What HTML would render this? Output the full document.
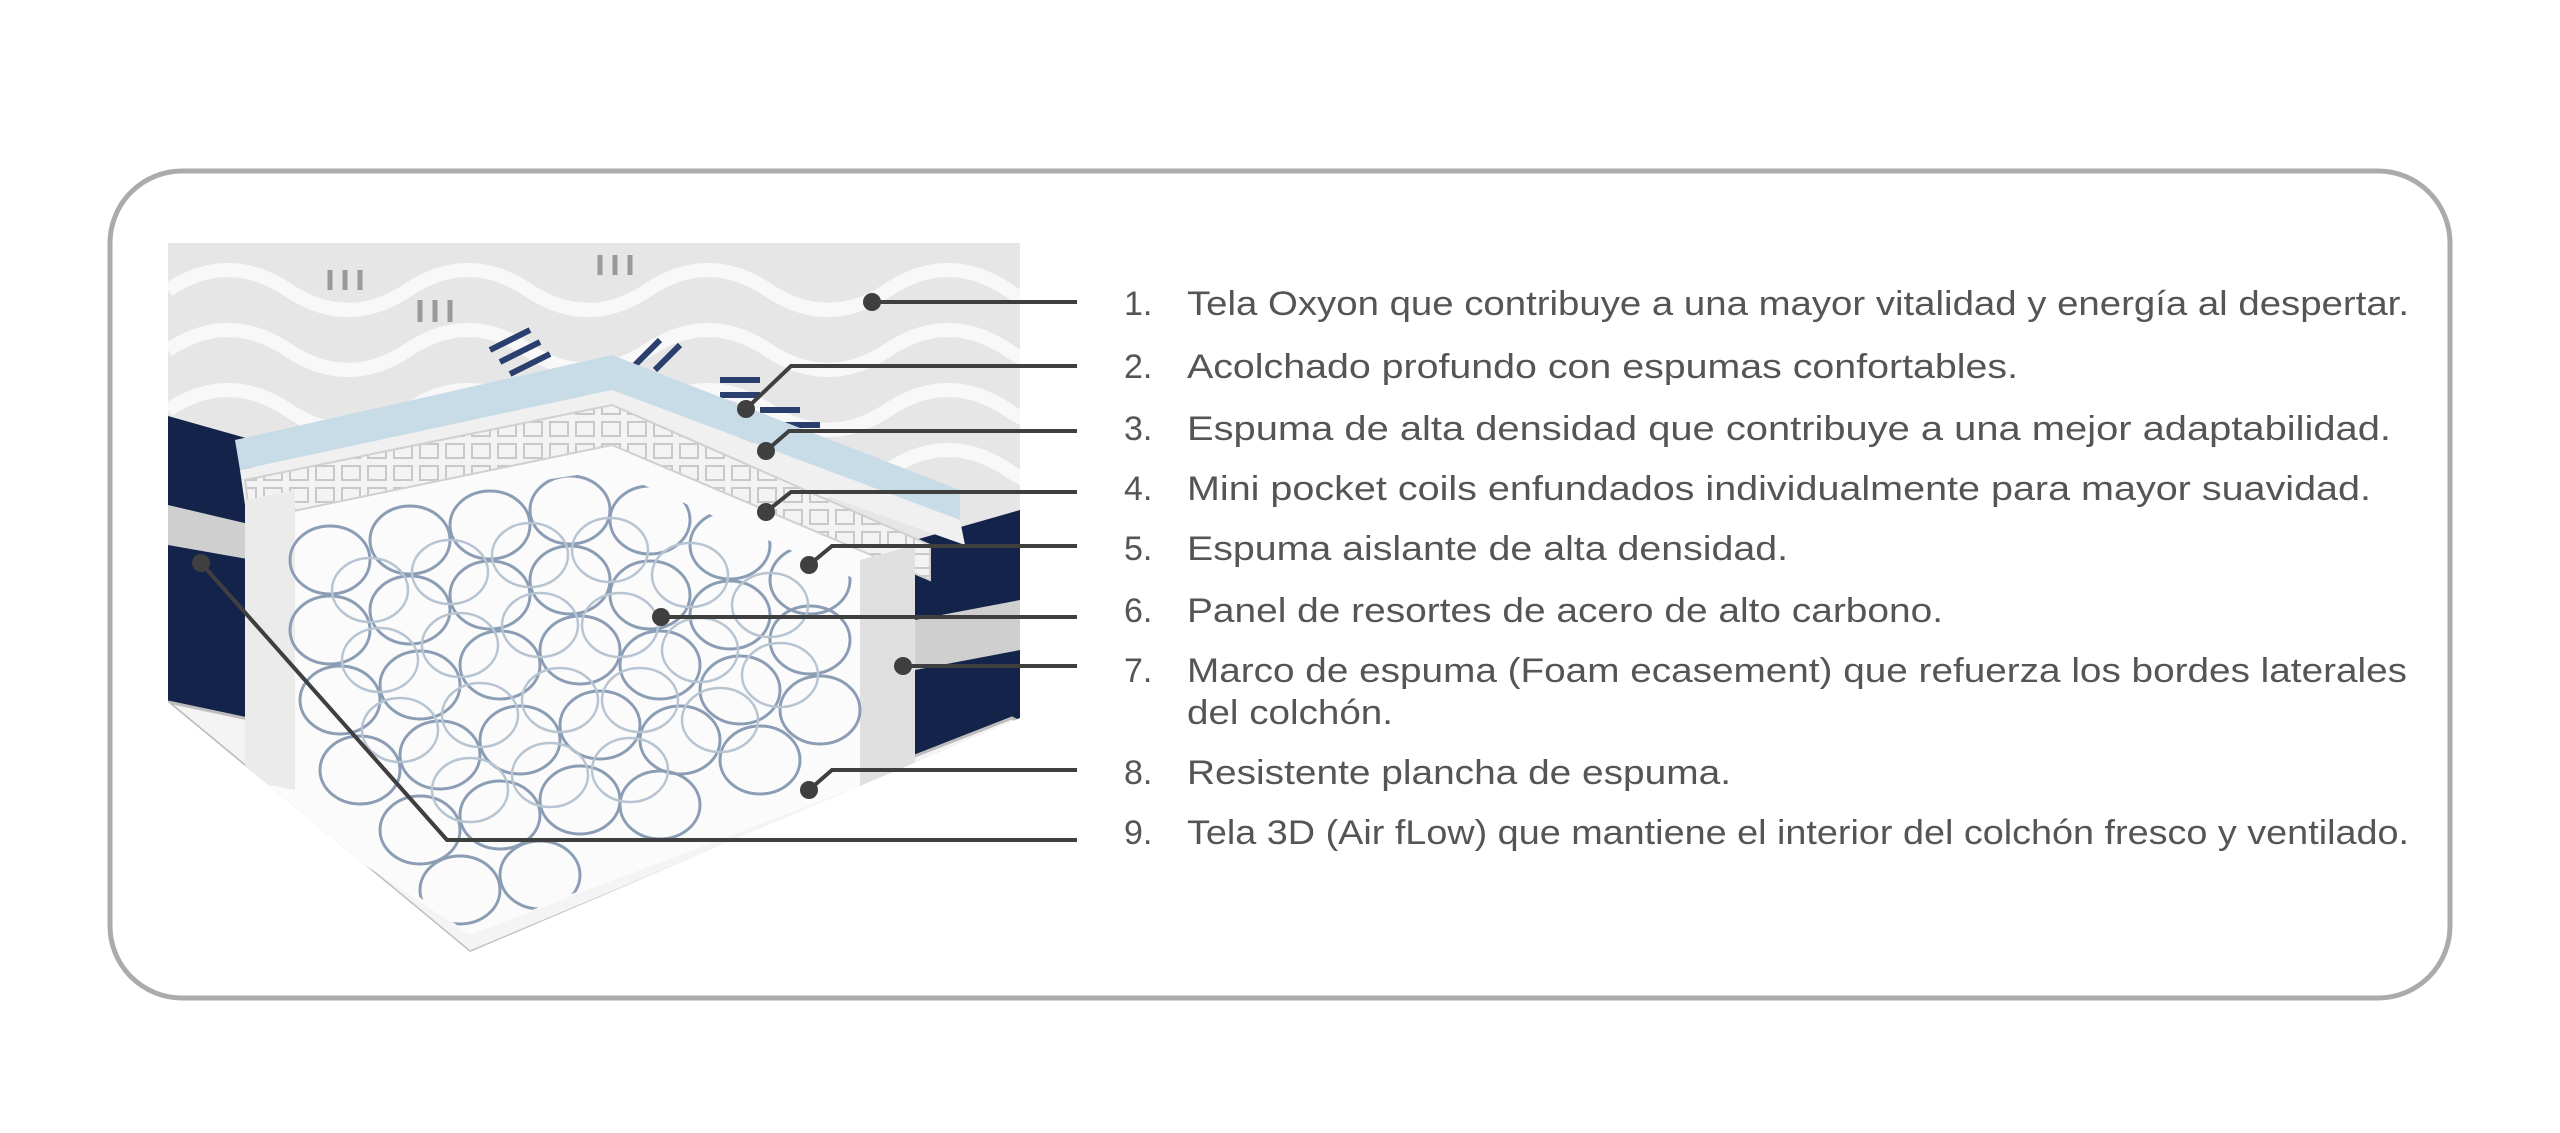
<!DOCTYPE html>
<html><head><meta charset="utf-8"><style>
html,body{margin:0;padding:0;background:#fff;}
svg{display:block;}
</style></head><body>
<svg width="2560" height="1133" viewBox="0 0 2560 1133" xmlns="http://www.w3.org/2000/svg">
<defs>
<clipPath id="sp"><polygon points="280,520 610,470 880,590 880,770 470,935 290,800"/></clipPath>
<clipPath id="mat"><polygon points="168,243 1020,243 1020,718 470,952 168,702"/></clipPath>
<pattern id="grid" width="26" height="22" patternUnits="userSpaceOnUse"><rect width="26" height="22" fill="#f3f3f3"/><rect x="4" y="4" width="18" height="14" fill="none" stroke="#c8c8c8" stroke-width="2"/></pattern>
</defs>
<rect x="110" y="171" width="2340" height="827" rx="72" fill="#fff" stroke="#ababab" stroke-width="5"/>

<g clip-path="url(#mat)">
<rect x="168" y="243" width="852" height="480" fill="#e6e6e6"/>
<g fill="none" stroke="#fafafa" stroke-width="14" opacity="0.9">
<path d="M168,290 q60,-40 120,0 t120,0 t120,0 t120,0 t120,0 t120,0 t120,0 t120,0"/>
<path d="M168,350 q60,-40 120,0 t120,0 t120,0 t120,0 t120,0 t120,0 t120,0 t120,0"/>
<path d="M168,410 q60,-40 120,0 t120,0 t120,0 t120,0 t120,0 t120,0 t120,0 t120,0"/>
<path d="M168,470 q60,-40 120,0 t120,0 t120,0 t120,0 t120,0 t120,0 t120,0 t120,0"/>
</g>
<g stroke="#9a9a9a" stroke-width="5">
<path d="M330,270v20M345,270v20M360,270v20M600,255v20M615,255v20M630,255v20M420,300v22M435,300v22M450,300v22"/>
</g>
<g stroke="#2a3f6e" stroke-width="6">
<path d="M490,350l40,-20M500,362l40,-20M510,374l40,-20M660,340l-25,25M680,345l-25,25M720,380h40M720,395h40M760,410h40M780,425h40M740,440h40"/>
</g>
<polygon points="168,416 253,440 253,790 168,702" fill="#14234a"/>
<polygon points="168,505 253,525 253,560 168,545" fill="#cfcfcf"/>
<polygon points="915,540 1020,510 1020,718 915,760" fill="#14234a"/>
<polygon points="915,620 1020,600 1020,650 915,670" fill="#cfcfcf"/>
<polygon points="168,702 253,720 470,930 1012,718 1020,722 470,952" fill="#f4f4f4" stroke="#bdbdbd" stroke-width="3"/>
<polygon points="253,500 612,420 915,560 915,765 470,935 253,790" fill="#fbfbfb"/>
<polygon points="235,440 612,355 960,490 960,520 612,390 240,470" fill="#c8dce8"/>
<polygon points="240,470 612,390 960,520 965,545 612,420 245,505" fill="#f0f0f0"/>
<polygon points="245,480 612,405 930,545 930,580 612,445 250,520" fill="url(#grid)" stroke="#d0d0d0" stroke-width="2"/>
<polygon points="245,500 295,490 295,790 245,780" fill="#ebebeb"/>
<polygon points="860,560 915,545 915,770 860,790" fill="#e0e0e0"/>
<g clip-path="url(#sp)" fill="none" stroke="#8b9db4" stroke-width="3">
<ellipse cx="330" cy="560" rx="40" ry="34"/><ellipse cx="410" cy="540" rx="40" ry="34"/><ellipse cx="490" cy="525" rx="40" ry="34"/><ellipse cx="570" cy="510" rx="40" ry="34"/><ellipse cx="650" cy="520" rx="40" ry="34"/><ellipse cx="730" cy="545" rx="40" ry="34"/><ellipse cx="810" cy="580" rx="40" ry="34"/>
<ellipse cx="330" cy="630" rx="40" ry="34"/><ellipse cx="410" cy="610" rx="40" ry="34"/><ellipse cx="490" cy="595" rx="40" ry="34"/><ellipse cx="570" cy="580" rx="40" ry="34"/><ellipse cx="650" cy="595" rx="40" ry="34"/><ellipse cx="730" cy="615" rx="40" ry="34"/><ellipse cx="810" cy="640" rx="40" ry="34"/>
<ellipse cx="340" cy="700" rx="40" ry="34"/><ellipse cx="420" cy="685" rx="40" ry="34"/><ellipse cx="500" cy="665" rx="40" ry="34"/><ellipse cx="580" cy="650" rx="40" ry="34"/><ellipse cx="660" cy="665" rx="40" ry="34"/><ellipse cx="740" cy="690" rx="40" ry="34"/><ellipse cx="820" cy="710" rx="40" ry="34"/>
<ellipse cx="360" cy="770" rx="40" ry="34"/><ellipse cx="440" cy="755" rx="40" ry="34"/><ellipse cx="520" cy="740" rx="40" ry="34"/><ellipse cx="600" cy="725" rx="40" ry="34"/><ellipse cx="680" cy="740" rx="40" ry="34"/><ellipse cx="760" cy="760" rx="40" ry="34"/>
<ellipse cx="420" cy="830" rx="40" ry="34"/><ellipse cx="500" cy="815" rx="40" ry="34"/><ellipse cx="580" cy="800" rx="40" ry="34"/><ellipse cx="660" cy="805" rx="40" ry="34"/>
<ellipse cx="460" cy="890" rx="40" ry="34"/><ellipse cx="540" cy="875" rx="40" ry="34"/>
</g>
<g clip-path="url(#sp)" fill="none" stroke="#b7c4d2" stroke-width="2.5">
<ellipse cx="370" cy="590" rx="38" ry="32"/><ellipse cx="450" cy="572" rx="38" ry="32"/><ellipse cx="530" cy="555" rx="38" ry="32"/><ellipse cx="610" cy="550" rx="38" ry="32"/><ellipse cx="690" cy="575" rx="38" ry="32"/><ellipse cx="770" cy="605" rx="38" ry="32"/>
<ellipse cx="380" cy="660" rx="38" ry="32"/><ellipse cx="460" cy="645" rx="38" ry="32"/><ellipse cx="540" cy="625" rx="38" ry="32"/><ellipse cx="620" cy="625" rx="38" ry="32"/><ellipse cx="700" cy="650" rx="38" ry="32"/><ellipse cx="780" cy="675" rx="38" ry="32"/>
<ellipse cx="400" cy="730" rx="38" ry="32"/><ellipse cx="480" cy="715" rx="38" ry="32"/><ellipse cx="560" cy="700" rx="38" ry="32"/><ellipse cx="640" cy="700" rx="38" ry="32"/><ellipse cx="720" cy="720" rx="38" ry="32"/>
<ellipse cx="470" cy="790" rx="38" ry="32"/><ellipse cx="550" cy="775" rx="38" ry="32"/><ellipse cx="630" cy="770" rx="38" ry="32"/>
</g>
</g>

<g stroke="#3f3f3f" stroke-width="4" fill="none">
<path d="M872,302H1077"/>
<path d="M746,409L791,366H1077"/>
<path d="M766,451L789,431H1077"/>
<path d="M766,512L791,492H1077"/>
<path d="M809,565L832,546H1077"/>
<path d="M661,617H1077"/>
<path d="M903,666H1077"/>
<path d="M809,790L832,770H1077"/>
<path d="M201,563L447,840H1077"/>
</g>
<g fill="#3f3f3f">
<circle cx="872" cy="302" r="9"/><circle cx="746" cy="409" r="9"/><circle cx="766" cy="451" r="9"/><circle cx="766" cy="512" r="9"/><circle cx="809" cy="565" r="9"/><circle cx="661" cy="617" r="9"/><circle cx="903" cy="666" r="9"/><circle cx="809" cy="790" r="9"/><circle cx="201" cy="563" r="9"/>
</g>

<g font-family="Liberation Sans, sans-serif" font-size="34" fill="#555">
<text x="1124" y="315">1.</text>
<text x="1187" y="315" textLength="1222" lengthAdjust="spacingAndGlyphs">Tela Oxyon que contribuye a una mayor vitalidad y energía al despertar.</text>
<text x="1124" y="378">2.</text>
<text x="1187" y="378" textLength="831" lengthAdjust="spacingAndGlyphs">Acolchado profundo con espumas confortables.</text>
<text x="1124" y="440">3.</text>
<text x="1187" y="440" textLength="1204" lengthAdjust="spacingAndGlyphs">Espuma de alta densidad que contribuye a una mejor adaptabilidad.</text>
<text x="1124" y="500">4.</text>
<text x="1187" y="500" textLength="1184" lengthAdjust="spacingAndGlyphs">Mini pocket coils enfundados individualmente para mayor suavidad.</text>
<text x="1124" y="560">5.</text>
<text x="1187" y="560" textLength="601" lengthAdjust="spacingAndGlyphs">Espuma aislante de alta densidad.</text>
<text x="1124" y="622">6.</text>
<text x="1187" y="622" textLength="756" lengthAdjust="spacingAndGlyphs">Panel de resortes de acero de alto carbono.</text>
<text x="1124" y="682">7.</text>
<text x="1187" y="682" textLength="1220" lengthAdjust="spacingAndGlyphs">Marco de espuma (Foam ecasement) que refuerza los bordes laterales</text>
<text x="1187" y="724" textLength="206" lengthAdjust="spacingAndGlyphs">del colchón.</text>
<text x="1124" y="784">8.</text>
<text x="1187" y="784" textLength="544" lengthAdjust="spacingAndGlyphs">Resistente plancha de espuma.</text>
<text x="1124" y="844">9.</text>
<text x="1187" y="844" textLength="1222" lengthAdjust="spacingAndGlyphs">Tela 3D (Air fLow) que mantiene el interior del colchón fresco y ventilado.</text>
</g>
</svg>
</body></html>
